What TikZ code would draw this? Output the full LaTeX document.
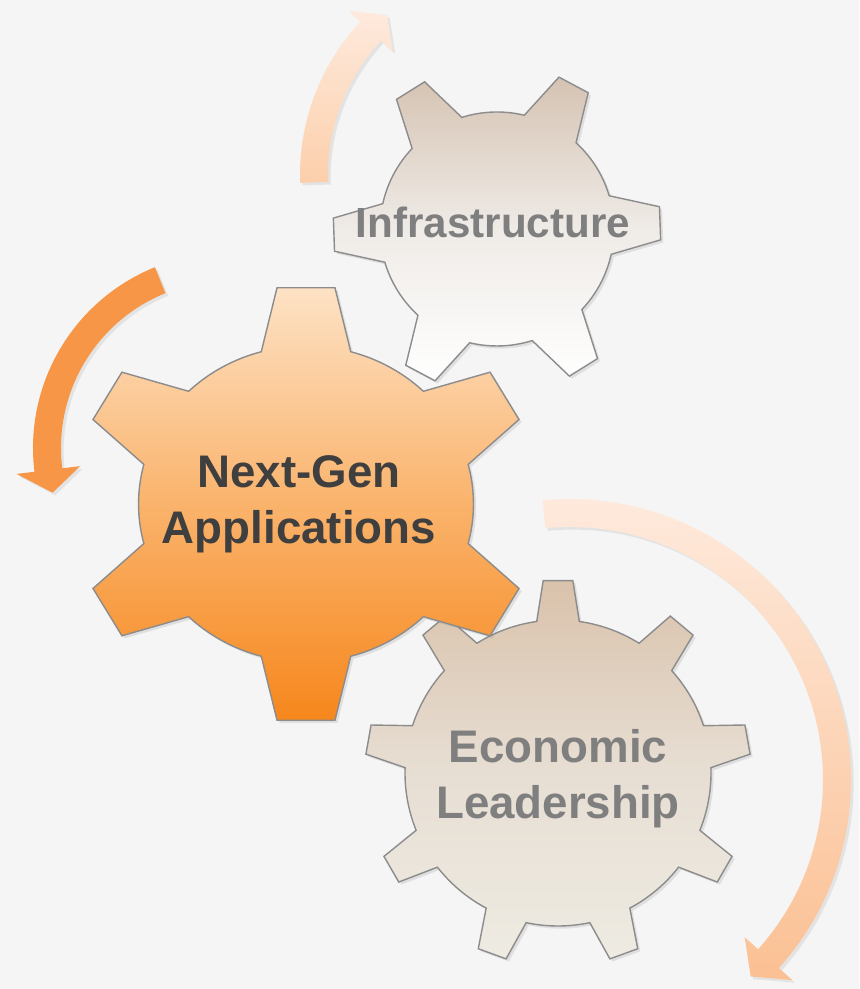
\documentclass[tikz,border=0pt]{standalone}
\usepackage{fontspec}
\setmainfont{Liberation Sans}
\usetikzlibrary{shadows}

\definecolor{paper}{HTML}{F5F5F5}
\definecolor{rim}{HTML}{8C8C8C}
\definecolor{infratop}{HTML}{D5C3B2}
\definecolor{inframid}{HTML}{EFEBE7}
\definecolor{apptop}{HTML}{FDE2C5}
\definecolor{appmid}{HTML}{FAB36C}
\definecolor{appbot}{HTML}{F6871C}
\definecolor{econtop}{HTML}{D9C2AB}
\definecolor{econmid}{HTML}{E7DED3}
\definecolor{econbot}{HTML}{EEEBE2}
\definecolor{softgray}{HTML}{7F7F7F}
\definecolor{darkgray}{HTML}{3F3F3F}
\definecolor{peachpale}{HTML}{FEEADD}
\definecolor{peachtail}{HTML}{FCCFAB}
\definecolor{peachhead}{HTML}{FBC093}
\definecolor{orangearrow}{HTML}{F79646}

% gear outline: teeth, outer r, inner r, tip half angle, base half angle, first tooth
\newcommand{\gearshape}[6]{%
  ({#6-#5}:#3)
  \foreach \t [evaluate=\t as \a using #6+(\t-1)*360/#1] in {1,...,#1} {
    -- ({\a-#4}:#2) -- ({\a+#4}:#2) -- ({\a+#5}:#3)
    arc[start angle={\a+#5}, end angle={\a+360/#1-#5}, radius=#3]
  } -- cycle}

\begin{document}
\begin{tikzpicture}[x=0.02cm, y=0.02cm,
    gearbody/.style={draw=rim, line width=0.8pt,
      drop shadow={opacity=0.18, shadow xshift=1.5pt, shadow yshift=-1.5pt}},
    bentarrow/.style={drop shadow={opacity=0.15, shadow xshift=1.5pt, shadow yshift=-1.5pt}},
    gearlabel/.style={font=\bfseries\fontsize{24}{31.5}\selectfont, align=center,
      text=#1, inner sep=0pt},
    biglabel/.style={gearlabel=#1, font=\bfseries\fontsize{26}{32}\selectfont}]

\useasboundingbox (0,0) rectangle (859,989);
\fill[paper] (0,0) rectangle (859,989);

% gears
\begin{scope}[shift={(558,216)}]
  \path[gearbody, top color=econtop, bottom color=econbot, middle color=econmid]
    \gearshape{9}{193}{153}{4.4}{8}{10};
\end{scope}

\begin{scope}[shift={(497,760)}]
  \path[gearbody, top color=infratop, bottom color=white, middle color=inframid]
    \gearshape{6}{164}{117}{5.8}{14.5}{2};
\end{scope}

\begin{scope}[shift={(306,485)}, xscale=1.06]
  \path[gearbody, top color=apptop, bottom color=appbot, middle color=appmid]
    \gearshape{6}{218}{158}{7.2}{15.5}{30};
\end{scope}

\node[gearlabel=softgray, anchor=base] (infra) at (493,751) {Infrastructure};
\node[biglabel=darkgray] (nextgen) at (299,485) {Next-Gen\\Applications};
\node[biglabel=softgray] (econ) at (558,210) {Economic\\Leadership};

% arrows
\begin{scope}[shift={(525,814)}]
  \path[bentarrow, top color=peachpale, bottom color=peachtail]
    (182:197) arc[start angle=182, end angle=137, radius=197] -- (137:181)
    -- (130.8:211) -- (137:241) -- (137:225)
    arc[start angle=137, end angle=182, radius=225] -- cycle;
\end{scope}

\begin{scope}[shift={(228,541)}]
  \path[bentarrow, fill=orangearrow]
    (112:167) arc[start angle=112, end angle=187, radius=167] -- (187:149)
    -- (194.3:181) -- (187:213) -- (187:195)
    arc[start angle=187, end angle=112, radius=195] -- cycle;
\end{scope}

\begin{scope}[shift={(570,209)}]
  \path[bentarrow, top color=peachpale, bottom color=peachhead]
    (95.6:253) arc[start angle=95.6, end angle=-42, radius=253] -- (-42:235)
    -- (-47.4:267) -- (-42:299) -- (-42:281)
    arc[start angle=-42, end angle=95.6, radius=281] -- cycle;
\end{scope}
\end{tikzpicture}
\end{document}
